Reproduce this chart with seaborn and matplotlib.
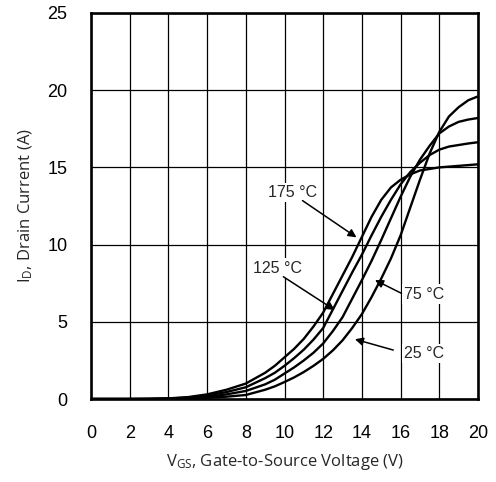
import matplotlib
matplotlib.use("Agg")
import matplotlib.pyplot as plt
import seaborn as sns
import pandas as pd

# Data
vgs = [0, 1, 2, 3, 4, 5, 6, 7, 8, 9, 9.5, 10, 10.5, 11, 11.5, 12, 12.5, 13,
       13.5, 14, 14.5, 15, 15.5, 16, 16.5, 17, 17.5, 18, 18.5, 19, 19.5, 20]
id_175 = [0, 0, 0, 0.01, 0.04, 0.12, 0.3, 0.6, 1.0, 1.7, 2.15, 2.7, 3.25,
          3.9, 4.7, 5.6, 6.8, 8.0, 9.2, 10.5, 11.8, 12.9, 13.7, 14.2, 14.55,
          14.8, 14.9, 15.0, 15.05, 15.1, 15.15, 15.2]
id_125 = [0, 0, 0, 0.01, 0.03, 0.09, 0.22, 0.45, 0.76, 1.35, 1.7, 2.15, 2.65,
          3.2, 3.85, 4.6, 5.8, 7.0, 8.2, 9.35, 10.6, 11.8, 12.9, 13.9, 14.7,
          15.3, 15.8, 16.15, 16.35, 16.45, 16.55, 16.63]
id_75 = [0, 0, 0, 0, 0.02, 0.05, 0.13, 0.3, 0.52, 0.95, 1.25, 1.65, 2.05,
         2.5, 3.0, 3.6, 4.4, 5.3, 6.5, 7.7, 8.95, 10.3, 11.7, 13.1, 14.4,
         15.5, 16.4, 17.2, 17.65, 17.95, 18.1, 18.2]
id_25 = [0, 0, 0, 0, 0.01, 0.03, 0.08, 0.15, 0.26, 0.6, 0.82, 1.1, 1.4,
         1.75, 2.15, 2.6, 3.15, 3.8, 4.6, 5.5, 6.6, 7.8, 9.1, 10.6, 12.4,
         14.2, 15.9, 17.3, 18.3, 18.9, 19.35, 19.6]
temps = ["175 °C", "125 °C", "75 °C", "25 °C"]
x_ticks = [0, 2, 4, 6, 8, 10, 12, 14, 16, 18, 20]
y_ticks = [0, 5, 10, 15, 20, 25]

rows = []
for t, series in zip(temps, [id_175, id_125, id_75, id_25]):
    for v, i in zip(vgs, series):
        rows.append({"VGS": v, "ID": i, "T": t})
df = pd.DataFrame(rows)

sns.set_style("white")
plt.rcParams["font.family"] = ["Liberation Sans", "DejaVu Sans"]
plt.rcParams["mathtext.default"] = "regular"

fig = plt.figure(figsize=(4.96, 4.82), dpi=100)
ax = fig.add_axes([91 / 496, (482 - 399) / 482, (478 - 91) / 496, (399 - 13) / 482])

ax.set_xlim(0, 20)
ax.set_ylim(0, 25)
ax.set_xticks(x_ticks)
ax.set_yticks(y_ticks)
ax.grid(True, color="black", linewidth=0.9)
ax.set_axisbelow(True)

sns.lineplot(data=df, x="VGS", y="ID", hue="T", palette=["black"] * 4,
             legend=False, linewidth=1.7, ax=ax, zorder=3)

for s in ax.spines.values():
    s.set_color("black")
    s.set_linewidth(1.9)

ax.tick_params(axis="both", length=0, labelsize=13, colors="black")
ax.tick_params(axis="x", pad=19)
ax.tick_params(axis="y", pad=17)

label_font = dict(family=["Open Sans", "DejaVu Sans"], fontsize=12)
ax.set_xlabel("V$_{GS}$, Gate-to-Source Voltage (V)", labelpad=7, **label_font)
ax.set_ylabel("I$_D$, Drain Current (A)", labelpad=9, **label_font)

ann = [
    ("175 °C", (10.44, 13.4), (10.93, 12.85), (13.72, 10.47)),
    ("125 °C", (9.66, 8.48), (9.94, 7.92), (12.6, 5.76)),
    ("75 °C", (17.2, 6.8), (16.05, 6.84), (14.68, 7.7)),
    ("25 °C", (17.2, 2.95), (15.62, 3.17), (13.64, 3.87)),
]
for label, tpos, start, tip in ann:
    ax.text(tpos[0], tpos[1], label, ha="center", va="center", fontsize=11.5,
            zorder=5, bbox=dict(facecolor="white", edgecolor="none", pad=1.5))
    ax.annotate("", xy=tip, xytext=start,
                arrowprops=dict(arrowstyle="-|>", color="black", lw=1.1,
                                mutation_scale=12, shrinkA=0, shrinkB=0),
                zorder=6)

fig.savefig("out.png", dpi=100)
